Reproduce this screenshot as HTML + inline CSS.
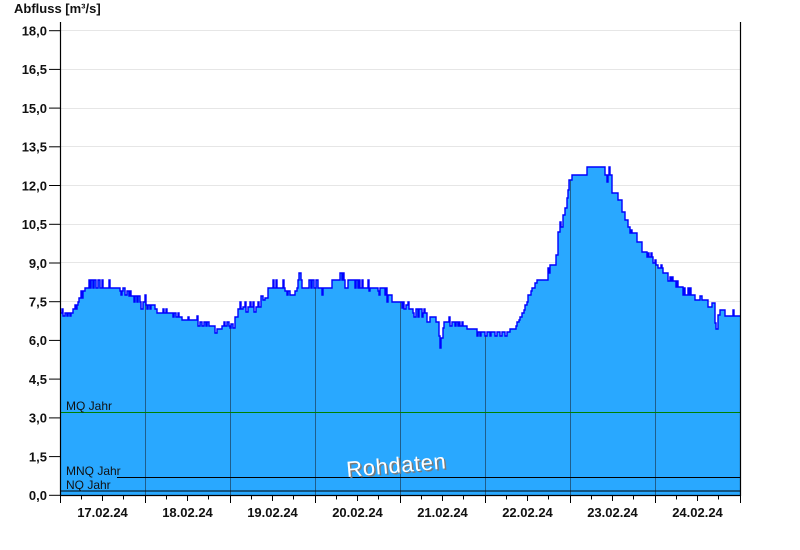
<!DOCTYPE html>
<html><head><meta charset="utf-8"><style>
html,body{margin:0;padding:0;background:#fff;}
svg{display:block;}
.lab{font-family:"Liberation Sans",Arial,sans-serif;font-weight:bold;font-size:13px;fill:#111;}
.ref{font-family:"Liberation Sans",Arial,sans-serif;font-size:12px;fill:#111;}
</style></head><body>
<svg width="800" height="550" viewBox="0 0 800 550" xmlns="http://www.w3.org/2000/svg">
<defs>
<clipPath id="c"><path id="areaPath" d="M60,313 H62 V309 H63 V316 H65 V313 H67 V316 H68 V313 H70 V316 H71 V313 H73 V309 H75 V305 H76 V309 H77 V305 H78 V302 H79 V298 H81 V291 H82 V298 H83 V291 H85 V288 H89 V280 H90 V288 H91 V280 H93 V288 H94 V280 H96 V288 H98 V280 H100 V288 H102 V280 H103 V288 H109 V280 H110 V288 H120 V291 H121 V295 H122 V291 H123 V288 H125 V295 H127 V291 H129 V296 H130 V291 H131 V296 H134 V302 H135 V296 H137 V302 H138 V296 H140 V302 H141 V309 H143 V302 H145 V295 H146 V305 H147 V309 H148 V305 H150 V309 H151 V305 H155 V309 H157 V313 H163 V309 H164 V313 H166 V309 H167 V313 H173 V317 H174 V313 H176 V317 H178 V313 H179 V317 H182 V320 H188 V317 H189 V320 H197 V316 H198 V326 H200 V322 H202 V326 H204 V322 H206 V326 H207 V322 H209 V326 H215 V333 H217 V329 H222 V326 H224 V322 H225 V326 H227 V322 H229 V326 H230 V328 H231 V324 H233 V328 H235 V317 H238 V309 H240 V302 H241 V309 H243 V307 H245 V302 H246 V312 H248 V307 H250 V302 H251 V307 H253 V302 H254 V312 H256 V307 H258 V302 H259 V307 H261 V296 H263 V300 H265 V298 H268 V288 H273 V280 H274 V288 H276 V280 H277 V288 H283 V280 H284 V288 H285 V291 H287 V295 H288 V291 H290 V295 H295 V291 H297 V288 H298 V280 H299 V273 H301 V280 H302 V288 H309 V280 H311 V288 H312 V280 H314 V288 H316 V280 H318 V288 H322 V295 H323 V288 H332 V280 H340 V273 H342 V280 H343 V273 H344 V280 H345 V288 H348 V280 H355 V288 H356 V280 H358 V288 H359 V280 H360 V288 H362 V280 H363 V288 H368 V280 H369 V291 H370 V288 H378 V291 H379 V295 H380 V288 H385 V295 H386 V288 H387 V302 H388 V295 H392 V302 H402 V308 H403 V302 H404 V309 H406 V305 H408 V302 H409 V309 H413 V313 H414 V317 H416 V309 H418 V317 H419 V309 H422 V317 H423 V313 H424 V309 H425 V313 H427 V322 H430 V317 H436 V322 H439 V336 H440 V348 H441 V338 H443 V328 H444 V322 H449 V317 H450 V326 H452 V322 H455 V326 H456 V322 H458 V326 H459 V322 H460 V326 H462 V322 H463 V326 H467 V329 H477 V336 H478 V332 H480 V336 H481 V332 H485 V336 H487 V332 H490 V336 H491 V332 H495 V336 H497 V332 H500 V336 H502 V332 H505 V336 H507 V332 H510 V329 H516 V326 H517 V322 H519 V320 H520 V317 H522 V313 H524 V310 H525 V305 H527 V302 H528 V295 H531 V291 H532 V288 H535 V283 H537 V280 H548 V268 H549 V273 H550 V265 H556 V255 H558 V232 H560 V222 H561 V227 H563 V215 H565 V208 H567 V198 H568 V190 H569 V180 H572 V175 H587 V167 H605 V175 H607 V182 H608 V175 H609 V167 H610 V175 H612 V193 H618 V200 H622 V212 H625 V220 H628 V227 H630 V233 H631 V230 H632 V233 H637 V242 H642 V252 H647 V257 H648 V253 H649 V257 H651 V253 H652 V257 H653 V263 H655 V260 H656 V265 H658 V268 H661 V265 H662 V268 H663 V273 H668 V281 H670 V277 H671 V281 H672 V277 H673 V281 H676 V287 H677 V281 H678 V287 H683 V295 H684 V288 H685 V295 H688 V288 H689 V295 H690 V288 H691 V295 H695 V300 H700 V296 H702 V300 H708 V307 H712 V303 H715 V323 H716 V329 H718 V315 H720 V310 H725 V316 H733 V310 H734 V316 H740 V495 H60 Z"/></clipPath>
</defs>

<!-- horizontal grid -->
<g stroke="#e6e6e6" stroke-width="1">
<line x1="60" y1="30.5" x2="740" y2="30.5"/>
<line x1="60" y1="69.5" x2="740" y2="69.5"/>
<line x1="60" y1="108.5" x2="740" y2="108.5"/>
<line x1="60" y1="146.5" x2="740" y2="146.5"/>
<line x1="60" y1="185.5" x2="740" y2="185.5"/>
<line x1="60" y1="224.5" x2="740" y2="224.5"/>
<line x1="60" y1="262.5" x2="740" y2="262.5"/>
<line x1="60" y1="301.5" x2="740" y2="301.5"/>
<line x1="60" y1="340.5" x2="740" y2="340.5"/>
<line x1="60" y1="378.5" x2="740" y2="378.5"/>
<line x1="60" y1="417.5" x2="740" y2="417.5"/>
<line x1="60" y1="456.5" x2="740" y2="456.5"/>
</g>

<!-- area fill -->
<use href="#areaPath" fill="#29a8ff"/>

<!-- day lines clipped to fill -->
<g clip-path="url(#c)" stroke="#1f5e8c" stroke-width="1">
<line x1="145.5" y1="0" x2="145.5" y2="495"/>
<line x1="230.5" y1="0" x2="230.5" y2="495"/>
<line x1="315.5" y1="0" x2="315.5" y2="495"/>
<line x1="400.5" y1="0" x2="400.5" y2="495"/>
<line x1="485.5" y1="0" x2="485.5" y2="495"/>
<line x1="570.5" y1="0" x2="570.5" y2="495"/>
<line x1="655.5" y1="0" x2="655.5" y2="495"/>
</g>

<!-- curve outline -->
<path d="M60,313 H62 V309 H63 V316 H65 V313 H67 V316 H68 V313 H70 V316 H71 V313 H73 V309 H75 V305 H76 V309 H77 V305 H78 V302 H79 V298 H81 V291 H82 V298 H83 V291 H85 V288 H89 V280 H90 V288 H91 V280 H93 V288 H94 V280 H96 V288 H98 V280 H100 V288 H102 V280 H103 V288 H109 V280 H110 V288 H120 V291 H121 V295 H122 V291 H123 V288 H125 V295 H127 V291 H129 V296 H130 V291 H131 V296 H134 V302 H135 V296 H137 V302 H138 V296 H140 V302 H141 V309 H143 V302 H145 V295 H146 V305 H147 V309 H148 V305 H150 V309 H151 V305 H155 V309 H157 V313 H163 V309 H164 V313 H166 V309 H167 V313 H173 V317 H174 V313 H176 V317 H178 V313 H179 V317 H182 V320 H188 V317 H189 V320 H197 V316 H198 V326 H200 V322 H202 V326 H204 V322 H206 V326 H207 V322 H209 V326 H215 V333 H217 V329 H222 V326 H224 V322 H225 V326 H227 V322 H229 V326 H230 V328 H231 V324 H233 V328 H235 V317 H238 V309 H240 V302 H241 V309 H243 V307 H245 V302 H246 V312 H248 V307 H250 V302 H251 V307 H253 V302 H254 V312 H256 V307 H258 V302 H259 V307 H261 V296 H263 V300 H265 V298 H268 V288 H273 V280 H274 V288 H276 V280 H277 V288 H283 V280 H284 V288 H285 V291 H287 V295 H288 V291 H290 V295 H295 V291 H297 V288 H298 V280 H299 V273 H301 V280 H302 V288 H309 V280 H311 V288 H312 V280 H314 V288 H316 V280 H318 V288 H322 V295 H323 V288 H332 V280 H340 V273 H342 V280 H343 V273 H344 V280 H345 V288 H348 V280 H355 V288 H356 V280 H358 V288 H359 V280 H360 V288 H362 V280 H363 V288 H368 V280 H369 V291 H370 V288 H378 V291 H379 V295 H380 V288 H385 V295 H386 V288 H387 V302 H388 V295 H392 V302 H402 V308 H403 V302 H404 V309 H406 V305 H408 V302 H409 V309 H413 V313 H414 V317 H416 V309 H418 V317 H419 V309 H422 V317 H423 V313 H424 V309 H425 V313 H427 V322 H430 V317 H436 V322 H439 V336 H440 V348 H441 V338 H443 V328 H444 V322 H449 V317 H450 V326 H452 V322 H455 V326 H456 V322 H458 V326 H459 V322 H460 V326 H462 V322 H463 V326 H467 V329 H477 V336 H478 V332 H480 V336 H481 V332 H485 V336 H487 V332 H490 V336 H491 V332 H495 V336 H497 V332 H500 V336 H502 V332 H505 V336 H507 V332 H510 V329 H516 V326 H517 V322 H519 V320 H520 V317 H522 V313 H524 V310 H525 V305 H527 V302 H528 V295 H531 V291 H532 V288 H535 V283 H537 V280 H548 V268 H549 V273 H550 V265 H556 V255 H558 V232 H560 V222 H561 V227 H563 V215 H565 V208 H567 V198 H568 V190 H569 V180 H572 V175 H587 V167 H605 V175 H607 V182 H608 V175 H609 V167 H610 V175 H612 V193 H618 V200 H622 V212 H625 V220 H628 V227 H630 V233 H631 V230 H632 V233 H637 V242 H642 V252 H647 V257 H648 V253 H649 V257 H651 V253 H652 V257 H653 V263 H655 V260 H656 V265 H658 V268 H661 V265 H662 V268 H663 V273 H668 V281 H670 V277 H671 V281 H672 V277 H673 V281 H676 V287 H677 V281 H678 V287 H683 V295 H684 V288 H685 V295 H688 V288 H689 V295 H690 V288 H691 V295 H695 V300 H700 V296 H702 V300 H708 V307 H712 V303 H715 V323 H716 V329 H718 V315 H720 V310 H725 V316 H733 V310 H734 V316 H740" fill="none" stroke="#0000ff" stroke-width="1.4"/>

<!-- reference lines -->
<line x1="60" y1="412.5" x2="740" y2="412.5" stroke="#008000" stroke-width="1"/>
<line x1="117" y1="477.5" x2="740" y2="477.5" stroke="#000" stroke-width="1"/>
<line x1="60" y1="491" x2="740" y2="491" stroke="#000" stroke-width="1"/>
<text class="ref" x="66" y="410">MQ Jahr</text>
<text class="ref" x="66" y="475">MNQ Jahr</text>
<text class="ref" x="66" y="489">NQ Jahr</text>

<!-- Rohdaten watermark -->
<g transform="translate(347,477) rotate(-5)" font-family="'Liberation Sans',Arial,sans-serif" font-size="22" letter-spacing="0.6">
<text x="1.5" y="1.5" fill="#7a7a7a">Rohdaten</text>
<text x="0" y="0" fill="#ffffff">Rohdaten</text>
</g>

<!-- axes -->
<line x1="60.5" y1="22" x2="60.5" y2="496" stroke="#000" stroke-width="1.2"/>
<line x1="740.5" y1="22" x2="740.5" y2="496" stroke="#000" stroke-width="1.2"/>
<line x1="60" y1="495.5" x2="741" y2="495.5" stroke="#000" stroke-width="1.2"/>

<!-- y ticks -->
<g stroke="#000" stroke-width="1">
<line x1="49" y1="30.7" x2="60" y2="30.7"/>
<line x1="49" y1="69.4" x2="60" y2="69.4"/>
<line x1="49" y1="108.1" x2="60" y2="108.1"/>
<line x1="49" y1="146.8" x2="60" y2="146.8"/>
<line x1="49" y1="185.5" x2="60" y2="185.5"/>
<line x1="49" y1="224.3" x2="60" y2="224.3"/>
<line x1="49" y1="263" x2="60" y2="263"/>
<line x1="49" y1="301.7" x2="60" y2="301.7"/>
<line x1="49" y1="340.4" x2="60" y2="340.4"/>
<line x1="49" y1="379.1" x2="60" y2="379.1"/>
<line x1="49" y1="417.9" x2="60" y2="417.9"/>
<line x1="49" y1="456.6" x2="60" y2="456.6"/>
<line x1="49" y1="495.3" x2="60" y2="495.3"/>
</g>
<g class="lab" text-anchor="end">
<text x="47" y="35.5">18,0</text>
<text x="47" y="74.2">16,5</text>
<text x="47" y="112.9">15,0</text>
<text x="47" y="151.6">13,5</text>
<text x="47" y="190.3">12,0</text>
<text x="47" y="229.1">10,5</text>
<text x="47" y="267.8">9,0</text>
<text x="47" y="306.5">7,5</text>
<text x="47" y="345.2">6,0</text>
<text x="47" y="383.9">4,5</text>
<text x="47" y="422.7">3,0</text>
<text x="47" y="461.4">1,5</text>
<text x="47" y="500.1">0,0</text>
</g>
<text class="lab" x="14" y="13">Abfluss [m³/s]</text>

<!-- x ticks -->
<g stroke="#000" stroke-width="1">
<path d="M60.5,495V503 M145.5,495V503 M230.5,495V503 M315.5,495V503 M400.5,495V503 M485.5,495V503 M570.5,495V503 M655.5,495V503 M740.5,495V503"/>
<path d="M102.5,495V501 M187.5,495V501 M272.5,495V501 M357.5,495V501 M442.5,495V501 M527.5,495V501 M612.5,495V501 M697.5,495V501"/>
<path d="M81.5,495V499.5 M123.5,495V499.5 M166.5,495V499.5 M208.5,495V499.5 M251.5,495V499.5 M293.5,495V499.5 M336.5,495V499.5 M378.5,495V499.5 M421.5,495V499.5 M463.5,495V499.5 M506.5,495V499.5 M548.5,495V499.5 M591.5,495V499.5 M633.5,495V499.5 M676.5,495V499.5 M718.5,495V499.5"/>
</g>
<g class="lab" text-anchor="middle">
<text x="102.5" y="517">17.02.24</text>
<text x="187.5" y="517">18.02.24</text>
<text x="272.5" y="517">19.02.24</text>
<text x="357.5" y="517">20.02.24</text>
<text x="442.5" y="517">21.02.24</text>
<text x="527.5" y="517">22.02.24</text>
<text x="612.5" y="517">23.02.24</text>
<text x="697.5" y="517">24.02.24</text>
</g>
</svg>
</body></html>
